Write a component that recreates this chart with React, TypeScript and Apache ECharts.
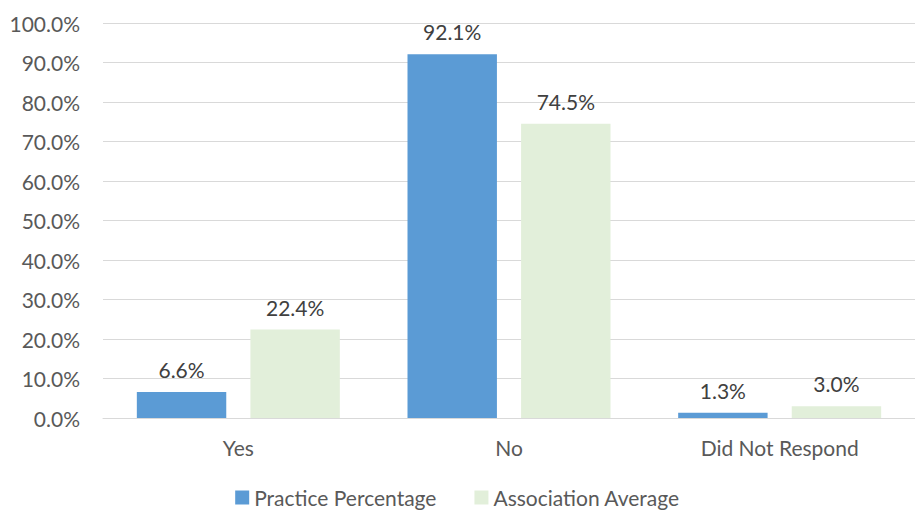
import React, { useEffect, useRef } from "react";
import * as echarts from "echarts";

const categories = ["Yes", "No", "Did Not Respond"];
const practicePercentage = [6.6, 92.1, 1.3];
const associationAverage = [22.4, 74.5, 3.0];
const seriesNames = ["Practice Percentage", "Association Average"];

const FONT = "Lato, 'Liberation Sans', sans-serif";
const FS = 21;

export default function App() {
  const ref = useRef<HTMLDivElement>(null);
  useEffect(() => {
    document.body.style.margin = "0";
    const chart = echarts.init(ref.current!, null, { renderer: "svg" });
    const label = {
      show: true,
      position: "top" as const,
      distance: 12,
      color: "#404040",
      fontSize: FS,
      fontFamily: FONT,
      formatter: (p: any) => p.value.toFixed(1) + "%",
    };
    chart.setOption({
      animation: false,
      backgroundColor: "#ffffff",
      textStyle: { fontFamily: FONT },
      grid: { left: 103, width: 819, top: 23, height: 395, containLabel: false },
      legend: {
        top: 485,
        left: "center",
        itemWidth: 14,
        itemHeight: 14,
        itemGap: 38,
        icon: "rect",
        padding: 2,
        textStyle: { color: "#595959", fontSize: FS, fontFamily: FONT },
        data: seriesNames,
      },
      xAxis: {
        type: "category",
        data: categories,
        axisLine: { lineStyle: { color: "#d9d9d9", width: 1 } },
        axisTick: { show: false },
        axisLabel: { color: "#595959", fontSize: FS, fontFamily: FONT, margin: 19 },
      },
      yAxis: {
        type: "value",
        min: 0,
        max: 100,
        interval: 10,
        axisLine: { show: false },
        axisTick: { show: false },
        splitLine: { lineStyle: { color: "#d9d9d9", width: 1 } },
        axisLabel: {
          color: "#595959",
          fontSize: FS,
          fontFamily: FONT,
          margin: 23,
          formatter: (v: number) => v.toFixed(1) + "%",
        },
      },
      series: [
        {
          name: seriesNames[0],
          type: "bar",
          data: practicePercentage,
          itemStyle: { color: "#5B9BD5" },
          barGap: "27%",
          barCategoryGap: "25%",
          label,
        },
        {
          name: seriesNames[1],
          type: "bar",
          data: associationAverage,
          itemStyle: { color: "#E2EFDA" },
          label,
        },
      ],
    });
    return () => chart.dispose();
  }, []);
  return <div ref={ref} style={{ width: 915, height: 513 }} />;
}
